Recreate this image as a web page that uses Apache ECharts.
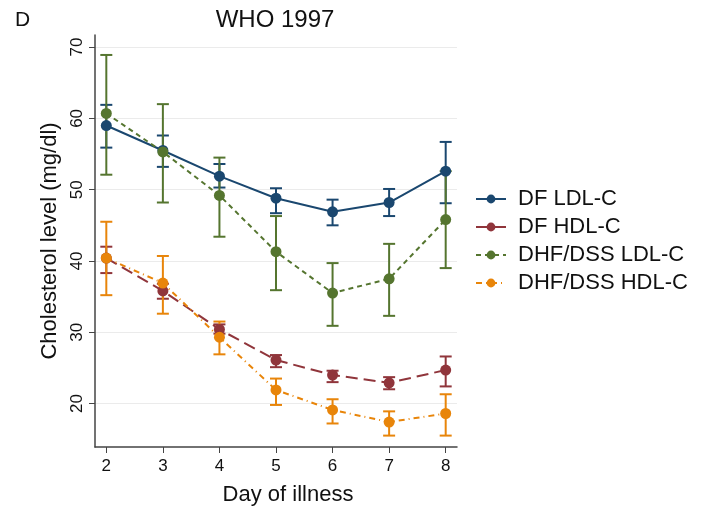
<!DOCTYPE html>
<html>
<head>
<meta charset="utf-8">
<script src="https://cdn.jsdelivr.net/npm/echarts@6/dist/echarts.min.js"></script>
<style>
  html, body { margin: 0; padding: 0; background: #fff; }
  #chart { width: 711px; height: 512px; }
</style>
</head>
<body>
<div id="chart"></div>
<script>
  // day of illness
  const days = [2, 3, 4, 5, 6, 7, 8]
  const yTicks = [20, 30, 40, 50, 60, 70]

  // means and CI bounds
  const dfLdl = [59.0, 55.5, 51.9, 48.8, 46.9, 48.2, 52.6]
  const dfLdlLo = [55.9, 53.2, 50.3, 46.7, 45.0, 46.3, 48.1]
  const dfLdlHi = [61.9, 57.6, 53.6, 50.2, 48.6, 50.1, 56.7]

  const dfHdl = [40.4, 35.8, 30.4, 26.1, 24.0, 22.9, 24.7]
  const dfHdlLo = [38.3, 34.7, 29.8, 25.1, 23.0, 22.0, 22.4]
  const dfHdlHi = [42.0, 36.8, 31.1, 26.8, 24.6, 23.7, 26.6]

  const dhfLdl = [60.7, 55.3, 49.2, 41.3, 35.5, 37.5, 45.8]
  const dhfLdlLo = [52.1, 48.2, 43.4, 35.9, 30.9, 32.3, 39.0]
  const dhfLdlHi = [68.9, 62.0, 54.5, 46.3, 39.7, 42.4, 52.6]

  const dhfHdl = [40.4, 36.9, 29.3, 21.9, 19.1, 17.4, 18.6]
  const dhfHdlLo = [35.2, 32.6, 26.9, 19.8, 17.2, 15.5, 15.5]
  const dhfHdlHi = [45.5, 40.7, 31.5, 23.5, 20.6, 18.9, 21.3]

  const colors = {
    navy: '#1a476f',
    maroon: '#90353b',
    green: '#55752f',
    orange: '#e8850a'
  }

  function pairs(ys) {
    return days.map((d, i) => [d, ys[i]])
  }

  function ciData(lo, hi) {
    return days.map((d, i) => [d, lo[i], hi[i]])
  }

  function errorBars(name, color, lo, hi) {
    return {
      name: name + ' CI',
      type: 'custom',
      data: ciData(lo, hi),
      z: 1,
      silent: true,
      renderItem: function (params, api) {
        const top = api.coord([api.value(0), api.value(2)])
        const bot = api.coord([api.value(0), api.value(1)])
        const half = 6
        const style = {stroke: color, lineWidth: 2}
        return {
          type: 'group',
          children: [
            {type: 'line', shape: {x1: top[0], y1: top[1], x2: bot[0], y2: bot[1]}, style: style},
            {type: 'line', shape: {x1: top[0] - half, y1: top[1], x2: top[0] + half, y2: top[1]}, style: style},
            {type: 'line', shape: {x1: bot[0] - half, y1: bot[1], x2: bot[0] + half, y2: bot[1]}, style: style}
          ]
        }
      }
    }
  }

  function meanLine(name, color, ys, dash) {
    return {
      name: name,
      type: 'line',
      data: pairs(ys),
      z: 3,
      symbol: 'circle',
      symbolSize: 11,
      itemStyle: {color: color},
      lineStyle: {color: color, width: 2, type: dash},
      emphasis: {disabled: true}
    }
  }

  const chart = echarts.init(document.getElementById('chart'))
  chart.setOption({
    animation: false,
    textStyle: {fontFamily: 'Liberation Sans, Arial, sans-serif'},
    title: [{
      text: 'WHO 1997',
      left: 270,
      textAlign: 'center',
      top: 3,
      textStyle: {fontSize: 24, fontWeight: 'normal', color: '#111'}
    }, {
      text: 'D',
      left: 10,
      top: 5,
      textStyle: {fontSize: 21, fontWeight: 'normal', color: '#111'}
    }],
    legend: {
      orient: 'vertical',
      left: 470,
      top: 183,
      itemWidth: 30,
      itemHeight: 11,
      itemGap: 6,
      data: ['DF LDL-C', 'DF HDL-C', 'DHF/DSS LDL-C', 'DHF/DSS HDL-C'],
      textStyle: {fontSize: 22, color: '#111', padding: [0, 0, 0, 7]}
    },
    grid: {left: 95, right: 254, top: 35, bottom: 65},
    xAxis: {
      type: 'value',
      min: 1.8,
      max: 8.2,
      name: 'Day of illness',
      nameLocation: 'middle',
      nameGap: 37,
      nameTextStyle: {fontSize: 22, color: '#111', padding: [0, 0, 0, 24]},
      axisLine: {lineStyle: {color: '#444', width: 1.5}},
      axisTick: {show: true, length: 6, customValues: days, lineStyle: {color: '#444'}},
      axisLabel: {customValues: days, fontSize: 17, color: '#111', margin: 11},
      splitLine: {show: false}
    },
    yAxis: {
      type: 'value',
      min: 13.9,
      max: 71.7,
      name: 'Cholesterol level (mg/dl)',
      nameLocation: 'middle',
      nameGap: 30,
      nameTextStyle: {fontSize: 22, color: '#111'},
      axisLine: {show: true, lineStyle: {color: '#444', width: 1.5}},
      axisTick: {show: true, length: 6, customValues: yTicks, lineStyle: {color: '#444'}},
      axisLabel: {customValues: yTicks, fontSize: 17, color: '#111', rotate: 90, margin: 9},
      splitLine: {show: true, lineStyle: {color: '#ebebeb', width: 1}}
    },
    series: [
      errorBars('DF LDL-C', colors.navy, dfLdlLo, dfLdlHi),
      errorBars('DF HDL-C', colors.maroon, dfHdlLo, dfHdlHi),
      errorBars('DHF/DSS LDL-C', colors.green, dhfLdlLo, dhfLdlHi),
      errorBars('DHF/DSS HDL-C', colors.orange, dhfHdlLo, dhfHdlHi),
      meanLine('DF LDL-C', colors.navy, dfLdl, 'solid'),
      meanLine('DF HDL-C', colors.maroon, dfHdl, [12, 6]),
      meanLine('DHF/DSS LDL-C', colors.green, dhfLdl, [5, 4]),
      meanLine('DHF/DSS HDL-C', colors.orange, dhfHdl, [6, 4, 1, 4])
    ]
  })
</script>
</body>
</html>
